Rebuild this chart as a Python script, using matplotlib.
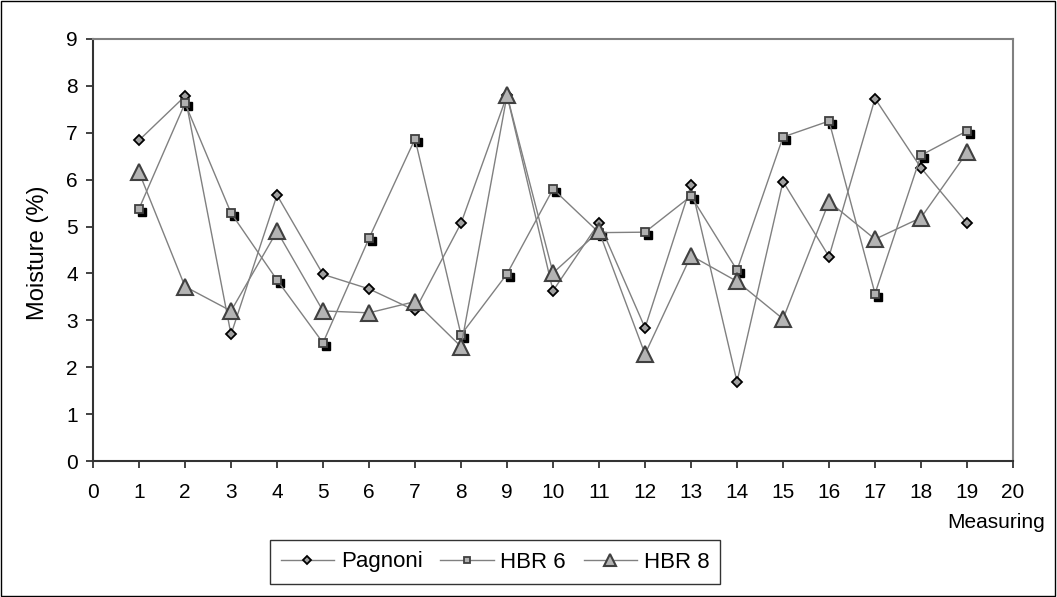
import numpy as np
import matplotlib
matplotlib.use('Agg')
import matplotlib.pyplot as plt
from matplotlib.transforms import offset_copy
from matplotlib.patches import Rectangle

plt.rcParams['font.family'] = ['Liberation Sans', 'DejaVu Sans']

# Data
measuring = list(range(1, 20))
pagnoni = [6.84, 7.78, 2.70, 5.67, 3.98, 3.67, 3.21, 5.07, 7.80, 3.63,
           5.08, 2.84, 5.88, 1.69, 5.96, 4.36, 7.73, 6.25, 5.07]
hbr6 = [5.38, 7.63, 5.29, 3.86, 2.52, 4.75, 6.87, 2.69, 3.99, 5.80,
        4.87, 4.88, 5.65, 4.07, 6.91, 7.25, 3.57, 6.52, 7.04]
hbr8 = [6.16, 3.72, 3.20, 4.90, 3.20, 3.16, 3.40, 2.44, 7.80, 4.01,
        4.90, 2.28, 4.38, 3.83, 3.03, 5.53, 4.73, 5.19, 6.58]
x_ticks = list(range(0, 21))
y_ticks = list(range(0, 10))

fig = plt.figure(figsize=(10.57, 5.97), dpi=100)
ax = fig.add_axes([0.088, 0.2278, 0.8704, 0.7069])

line_col = '#808080'

# Pagnoni
ax.plot(measuring, pagnoni, '-', color=line_col, lw=1.0, marker='D', ms=5.5,
        mfc='#a0a0a0', mec='black', mew=1.3, label='Pagnoni', zorder=3)

# HBR 6 with black shadow squares
shadow = offset_copy(ax.transData, fig=fig, x=3, y=-3, units='dots')
ax.plot(measuring, hbr6, linestyle='none', marker='s', ms=6, mfc='black',
        mec='black', transform=shadow, zorder=2)
ax.plot(measuring, hbr6, '-', color=line_col, lw=1.0, marker='s', ms=6,
        mfc='#b0b0b0', mec='#404040', mew=1.3, label='HBR 6', zorder=3)

# HBR 8
ax.plot(measuring, hbr8, '-', color=line_col, lw=1.0, marker='^', ms=11.5,
        mfc='#b4b4b4', mec='#404040', mew=1.5, label='HBR 8', zorder=4)

ax.set_xlim(0, 20)
ax.set_ylim(0, 9)
ax.set_xticks(x_ticks)
ax.set_yticks(y_ticks)
ax.tick_params(direction='out', length=5, width=1.2, labelsize=15,
               color='#222222')
ax.tick_params(axis='x', pad=11)
ax.tick_params(axis='y', pad=6)
for s in ['top', 'right']:
    ax.spines[s].set_color('#808080')
    ax.spines[s].set_linewidth(1.5)
for s in ['left', 'bottom']:
    ax.spines[s].set_color('#333333')
    ax.spines[s].set_linewidth(1.5)

fig.text(38 / 1057, 1 - 253 / 597, 'Moisture (%)', rotation=90,
         ha='center', va='center', fontsize=17)
fig.text(1045 / 1057, 1 - 522 / 597, 'Measuring', ha='right', va='center',
         fontsize=15)

leg = fig.legend(loc='center', bbox_to_anchor=(495 / 1057, 1 - 562 / 597),
                 ncol=3, fontsize=16, frameon=True, fancybox=False,
                 edgecolor='black', handlelength=2.4, columnspacing=0.8,
                 handletextpad=0.3, borderpad=0.5, markerscale=0.7)
leg.get_frame().set_linewidth(1.0)

fig.patches.append(Rectangle((0.001, 0.002), 0.997, 0.996,
                             transform=fig.transFigure, fill=False,
                             edgecolor='black', lw=1.0))

plt.savefig('out.png', dpi=100)
plt.close()
